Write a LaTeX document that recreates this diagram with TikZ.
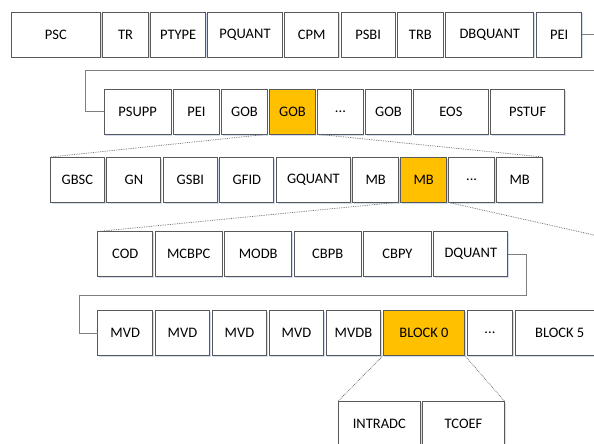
\documentclass[tikz,border=0pt]{standalone}
\usepackage{fontspec}
\setmainfont{Carlito}
\usetikzlibrary{positioning,shadows,calc}

\definecolor{boxgray}{HTML}{595959}
\definecolor{linegray}{HTML}{7F7F7F}
\definecolor{dotgray}{HTML}{6A6A6A}
\definecolor{gobgold}{HTML}{FFC000}
\definecolor{shadeblue}{HTML}{B4C7E7}

\begin{document}
\begin{tikzpicture}[x=1pt, y=-1pt,
    field/.style={draw=boxgray, line width=0.9pt, fill=white, minimum height=45pt,
        inner sep=0pt, outer sep=0pt, font=\fontsize{14.5}{16}\selectfont,
        drop shadow={shadow xshift=1.2pt, shadow yshift=-1.5pt, fill=shadeblue, opacity=0.6}},
    hot/.style={field, fill=gobgold},
    link/.style={draw=linegray, line width=0.9pt},
    spread/.style={draw=dotgray, densely dotted, line width=0.75pt},
    node distance=2.5pt]
    \useasboundingbox (0,0) rectangle (594,444);
    \clip (0,0) rectangle (594,444);

    % Picture layer
    \node[field, minimum width=89pt, anchor=west] (psc) at (11.4,34.5) {PSC};
    \node[field, minimum width=45.5pt, right=of psc] (tr) {TR};
    \node[field, minimum width=54.5pt, right=of tr] (ptype) {PTYPE};
    \node[field, minimum width=74.2pt, right=of ptype] (pquant) {PQUANT};
    \node[field, minimum width=54pt, right=of pquant] (cpm) {CPM};
    \node[field, minimum width=54pt, right=of cpm] (psbi) {PSBI};
    \node[field, minimum width=45.5pt, right=of psbi] (trb) {TRB};
    \node[field, minimum width=88.3pt, right=of trb] (dbquant) {DBQUANT};
    \node[field, minimum width=45.5pt, right=of dbquant] (pei) {PEI};

    % Picture layer, continued
    \node[field, minimum width=67pt, anchor=west] (psupp) at (104.2,111.5) {PSUPP};
    \node[field, minimum width=45.5pt, right=of psupp] (peib) {PEI};
    \node[field, minimum width=45.5pt, right=of peib] (goba) {GOB};
    \node[hot, minimum width=45.5pt, right=of goba] (gobb) {GOB};
    \node[field, minimum width=45.5pt, right=of gobb] (gobdots) {...};
    \node[field, minimum width=45.5pt, right=of gobdots] (gobc) {GOB};
    \node[field, minimum width=74.3pt, right=of gobc] (eos) {EOS};
    \node[field, minimum width=74.3pt, right=of eos] (pstuf) {PSTUF};

    \coordinate (wrapa) at (85.6,70);
    \draw[link] (pei.east) -| ([xshift=40pt]pei.east |- wrapa) -- (wrapa) |- (psupp.west);

    % GOB layer
    \node[field, minimum width=54pt, anchor=west] (gbsc) at (50.4,179.5) {GBSC};
    \node[field, minimum width=54pt, right=of gbsc] (gn) {GN};
    \node[field, minimum width=54pt, right=of gn] (gsbi) {GSBI};
    \node[field, minimum width=54pt, right=of gsbi] (gfid) {GFID};
    \node[field, minimum width=74pt, right=of gfid] (gquant) {GQUANT};
    \node[field, minimum width=45.5pt, right=of gquant] (mba) {MB};
    \node[hot, minimum width=45.5pt, right=of mba] (mbb) {MB};
    \node[field, minimum width=45.5pt, right=of mbb] (mbdots) {...};
    \node[field, minimum width=45.5pt, right=of mbdots] (mbc) {MB};

    \draw[spread] (gobb.south west) -- (gbsc.north west);
    \draw[spread] (gobb.south east) -- (mbc.north east);

    % MB layer
    \node[field, minimum width=55pt, anchor=west] (cod) at (97.7,254) {COD};
    \node[field, minimum width=67pt, right=of cod] (mcbpc) {MCBPC};
    \node[field, minimum width=67pt, right=of mcbpc] (modb) {MODB};
    \node[field, minimum width=67pt, right=of modb] (cbpb) {CBPB};
    \node[field, minimum width=67.5pt, right=of cbpb] (cbpy) {CBPY};
    \node[field, minimum width=74.2pt, right=of cbpy] (dquant) {DQUANT};

    \coordinate (farmb) at (594,235);
    \draw[spread] (mbb.south west) -- (cod.north west);
    \draw[spread] (mbb.south east) -- ($(mbb.south east)!1.1!(farmb)$);

    % MB layer, continued
    \node[field, minimum width=55pt, anchor=west] (mvda) at (97.7,333) {MVD};
    \node[field, minimum width=54.5pt, right=of mvda] (mvdb) {MVD};
    \node[field, minimum width=54.5pt, right=of mvdb] (mvdc) {MVD};
    \node[field, minimum width=54.5pt, right=of mvdc] (mvdd) {MVD};
    \node[field, minimum width=54.5pt, right=of mvdd] (mvdbb) {MVDB};
    \node[hot, minimum width=81.5pt, right=of mvdbb] (blka) {BLOCK 0};
    \node[field, minimum width=45.5pt, right=of blka] (blkdots) {...};
    \node[field, minimum width=89pt, right=of blkdots] (blkf) {BLOCK 5};

    \coordinate (wrapb) at (79.2,295);
    \draw[link] (dquant.east) -| ([xshift=19pt]dquant.east |- wrapb) -- (wrapb) |- (mvda.west);

    % Block layer
    \node[field, minimum width=82pt, anchor=west] (intradc) at (338.3,423.5) {INTRADC};
    \node[field, minimum width=81.5pt, right=of intradc] (tcoef) {TCOEF};

    \draw[spread] (blka.south west) -- (intradc.north west);
    \draw[spread] (blka.south east) -- (tcoef.north east);
\end{tikzpicture}
\end{document}
